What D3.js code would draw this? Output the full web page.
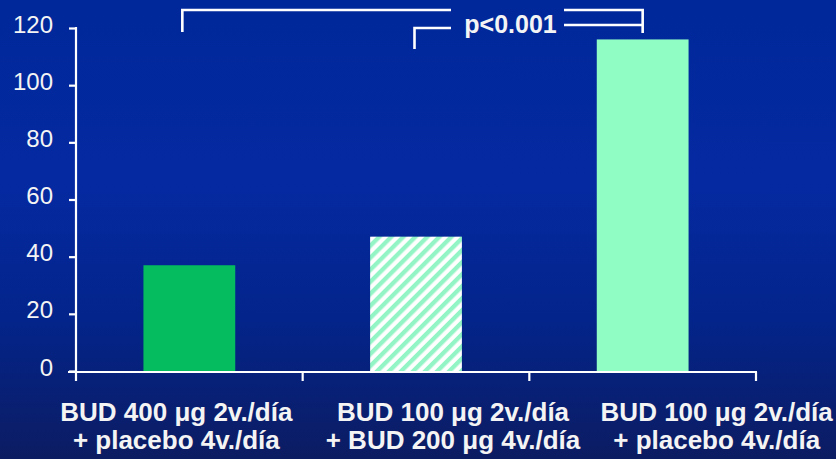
<!DOCTYPE html>
<html>
<head>
<meta charset="utf-8">
<script src="https://cdn.jsdelivr.net/npm/d3@7"></script>
<style>
  html, body { margin: 0; padding: 0; background: #0a1f70; }
  svg { display: block; }
  text { font-family: "Liberation Sans", Arial, Helvetica, sans-serif; fill: #f4f4f4; }
</style>
</head>
<body>
<svg id="chart" width="836" height="459"></svg>
<script>
// Treatment groups (two label lines each) and the value plotted for each
const categories = [
  ["BUD 400 μg 2v./día", "+ placebo 4v./día"],
  ["BUD 100 μg 2v./día", "+ BUD 200 μg 4v./día"],
  ["BUD 100 μg 2v./día", "+ placebo 4v./día"]
];
const values = [37, 47, 116];
const yTicks = [0, 20, 40, 60, 80, 100, 120];
const significance = "p<0.001";

const W = 836, H = 459;
const svg = d3.select("#chart");
const defs = svg.append("defs");

// Background gradient
const bg = defs.append("linearGradient").attr("id", "bg")
  .attr("x1", 0).attr("y1", 0).attr("x2", 0).attr("y2", 1);
bg.append("stop").attr("offset", "0%").attr("stop-color", "#00289a");
bg.append("stop").attr("offset", "40%").attr("stop-color", "#0529a1");
bg.append("stop").attr("offset", "70%").attr("stop-color", "#03248a");
bg.append("stop").attr("offset", "100%").attr("stop-color", "#0c1c62");
svg.append("rect").attr("width", W).attr("height", H).attr("fill", "url(#bg)");

// Diagonal hatch for the combined-dose bar
const hatch = defs.append("pattern").attr("id", "hatch")
  .attr("patternUnits", "userSpaceOnUse")
  .attr("width", 8.5).attr("height", 8.5)
  .attr("patternTransform", "rotate(45)");
hatch.append("rect").attr("width", 8.5).attr("height", 8.5).attr("fill", "#ffffff");
hatch.append("rect").attr("width", 4.3).attr("height", 8.5).attr("fill", "#93f5c5");

const barFills = ["#05bd5e", "url(#hatch)", "#8ffdc4"];

// Scales
const x = d3.scaleBand().domain(d3.range(categories.length)).range([76, 756]).padding(0);
const y = d3.scaleLinear().domain([0, 120]).range([371, 28]);
const barW = x.bandwidth() * 0.405;
const cx = i => x(i) + x.bandwidth() / 2;

// Bars
svg.append("g").selectAll("rect").data(values).join("rect")
  .attr("x", (d, i) => cx(i) - barW / 2)
  .attr("y", d => y(d))
  .attr("width", barW)
  .attr("height", d => y(0) - y(d))
  .attr("fill", (d, i) => barFills[i]);

// Y axis
const yAxis = svg.append("g").attr("transform", "translate(76,0)")
  .call(d3.axisLeft(y).tickValues(yTicks).tickSize(7).tickPadding(16).tickFormat(d3.format("d")));
yAxis.select(".domain").remove();
yAxis.selectAll(".tick line").attr("stroke", "#ffffff").attr("stroke-width", 2.2);
yAxis.selectAll(".tick text")
  .attr("dy", "0.38em").attr("y", -5)
  .style("font-size", "24px").style("fill", "#f4f4f4");
svg.append("line").attr("x1", 76).attr("x2", 76).attr("y1", y(120) - 1).attr("y2", 381)
  .attr("stroke", "#ffffff").attr("stroke-width", 2.2);

// X axis with ticks at band boundaries
const xb = 372;
svg.append("line").attr("x1", 68).attr("x2", 757).attr("y1", xb).attr("y2", xb)
  .attr("stroke", "#ffffff").attr("stroke-width", 2.2);
const bounds = d3.range(1, categories.length + 1).map(i => x(i - 1) + x.bandwidth());
svg.append("g").selectAll("line").data(bounds).join("line")
  .attr("x1", d => d).attr("x2", d => d).attr("y1", xb).attr("y2", 381)
  .attr("stroke", "#ffffff").attr("stroke-width", 2.2);

// Category labels
const labelShift = [-13, 37, 74];
const lab = svg.append("g").selectAll("text").data(categories).join("text")
  .attr("text-anchor", "middle")
  .style("font-size", "26px").style("font-weight", "bold");
lab.each(function (lines, i) {
  d3.select(this).selectAll("tspan").data(lines).join("tspan")
    .attr("x", cx(i) + labelShift[i])
    .attr("y", (d, j) => 421 + j * 28)
    .text(d => d);
});

// Significance brackets
const bk = svg.append("g").attr("stroke", "#ffffff").attr("stroke-width", 2.6).attr("fill", "none");
const gapL = 451, gapR = 564;
const bx1 = cx(0) - 7, bx2 = cx(1) - 1.5, bx3 = cx(2);
bk.append("path").attr("d", `M${bx1},32 V10 H${gapL}`);
bk.append("path").attr("d", `M${gapR},10 H${bx3} V33`);
bk.append("path").attr("d", `M${gapR},25 H${bx3}`);
bk.append("path").attr("d", `M${bx2},49 V28 H${gapL}`);

svg.append("text").attr("x", (gapL + gapR) / 2 + 3).attr("y", 33)
  .attr("text-anchor", "middle")
  .style("font-size", "25px").style("font-weight", "bold")
  .text(significance);
</script>
</body>
</html>
